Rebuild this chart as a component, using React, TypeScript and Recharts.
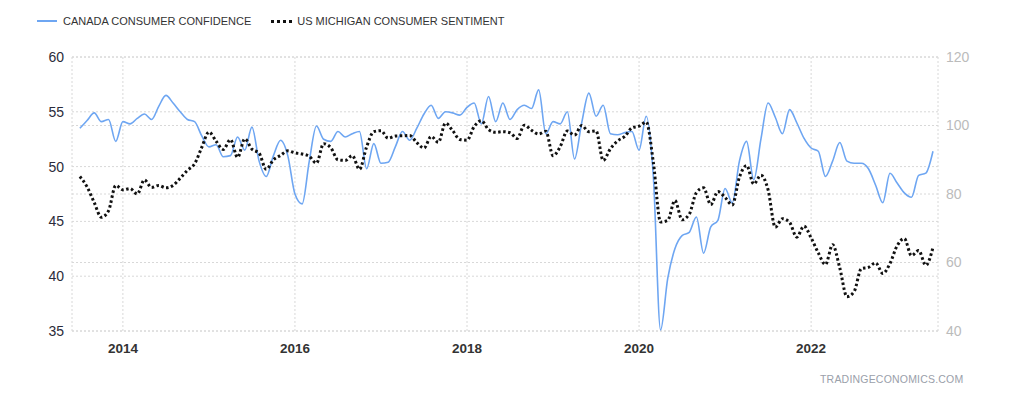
import { LineChart, Line, XAxis, YAxis, CartesianGrid } from 'recharts';

// monthly, Jul 2013 .. Jun 2023
const canada = [
  53.5, 54.2, 54.9, 54.1, 54.3, 52.3, 54.1, 53.9, 54.4, 54.8, 54.3, 55.5,
  56.5, 55.8, 55.0, 54.3, 54.1, 52.8, 51.8, 52.0, 50.9, 51.0, 52.7, 51.5,
  53.6, 50.5, 49.1, 51.0, 52.4, 51.0, 47.5, 46.6, 50.5, 53.7, 52.5, 52.3,
  53.2, 52.7, 53.0, 53.2, 49.8, 52.1, 50.3, 50.4, 51.8, 53.2, 52.4, 53.5,
  54.8, 55.6, 54.4, 55.0, 54.9, 54.7, 55.4, 55.8, 53.9, 56.4, 54.1, 55.8,
  54.3, 55.2, 55.6, 55.3, 57.0, 53.0, 54.1, 53.9, 55.0, 50.7, 54.0, 56.7,
  54.6, 55.6, 53.0, 52.9, 53.1, 53.2, 51.5, 54.6, 49.0, 35.1, 39.8, 42.5,
  43.7, 44.0, 45.4, 42.1, 44.5, 45.1, 48.0, 46.7, 50.5, 52.3, 48.8, 52.5,
  55.8, 54.5, 53.0, 55.2, 54.0, 52.6, 51.7, 51.4, 49.1, 50.5, 52.2, 50.5,
  50.3, 50.3, 49.8, 48.3, 46.7, 49.4, 48.5, 47.6, 47.2, 49.2, 49.4, 51.4,
];

const michigan = [
  85.1, 82.1, 77.5, 73.2, 75.1, 82.5, 81.2, 81.6, 80.0, 84.1, 81.9, 82.5,
  81.8, 82.5, 84.6, 86.9, 88.8, 93.6, 98.1, 95.4, 93.0, 95.9, 90.7, 96.1,
  93.1, 91.9, 87.2, 90.0, 91.3, 92.6, 92.0, 91.7, 91.0, 89.0, 94.7, 93.5,
  90.0, 89.8, 91.2, 87.2, 93.8, 98.2, 98.5, 96.3, 96.9, 97.0, 97.1, 95.0,
  93.4, 96.8, 95.1, 100.7, 98.5, 95.9, 95.7, 99.7, 101.4, 98.8, 98.0, 98.2,
  97.9, 96.2, 100.1, 98.6, 97.5, 98.3, 91.2, 93.8, 98.4, 97.2, 100.0, 98.2,
  98.4, 89.8, 93.2, 95.5, 96.8, 99.3, 99.8, 101.0, 89.1, 71.8, 72.3, 78.1,
  72.5, 74.1, 80.4, 81.8, 76.9, 80.7, 79.0, 76.8, 84.9, 88.3, 82.9, 85.5,
  81.2, 70.3, 72.8, 71.7, 67.4, 70.6, 67.2, 62.8, 59.4, 65.2, 58.4, 50.0,
  51.5, 58.2, 58.6, 59.9, 56.8, 59.7, 64.9, 67.0, 62.0, 63.5, 59.2, 64.4,
];

// January positions (month index from Jul 2013)
const yearTicks = [6, 30, 54, 78, 102];
const yearLabels = ['2014', '2016', '2018', '2020', '2022'];
const leftTicks = [35, 40, 45, 50, 55, 60];
const rightTicks = [40, 60, 80, 100, 120];

const data = canada.map((v, i) => ({ m: i, canada: v, us: michigan[i] }));

const font = 'Arial, "Liberation Sans", sans-serif';

export default function App() {
  return (
    <div style={{ position: 'absolute', left: 0, top: 0, width: 1024, height: 397, background: '#fff', fontFamily: font }}>
      <div style={{ position: 'absolute', top: 15, left: 37, display: 'flex', alignItems: 'center', fontSize: 11, color: '#333' }}>
        <span style={{ display: 'inline-block', width: 20, height: 2, background: '#6ea6f2', marginRight: 6 }} />
        <span>CANADA CONSUMER CONFIDENCE</span>
        <span style={{ display: 'inline-block', width: 21, borderTop: '3px dotted #111', marginLeft: 20, marginRight: 5 }} />
        <span>US MICHIGAN CONSUMER SENTIMENT</span>
      </div>
      <LineChart width={1024} height={397} data={data} margin={{ top: 57, right: 36, bottom: 36, left: 12 }}>
        <CartesianGrid yAxisId="left" stroke="#d8d8d8" strokeDasharray="2 2" ticks={leftTicks} />
        <CartesianGrid yAxisId="right" stroke="#d8d8d8" strokeDasharray="2 2" vertical={false} />
        <XAxis
          dataKey="m"
          type="number"
          domain={[-1.1, 119.7]}
          ticks={yearTicks}
          tickFormatter={(v) => yearLabels[yearTicks.indexOf(v)] ?? ''}
          axisLine={false}
          tickLine={false}
          height={30}
          tick={{ fill: '#333', fontSize: 13.5, fontWeight: 600 }}
          tickMargin={6}
        />
        <YAxis
          yAxisId="left"
          domain={[35, 60]}
          ticks={leftTicks}
          axisLine={false}
          tickLine={false}
          width={60}
          tick={{ fill: '#2b2b3a', fontSize: 14 }}
          tickMargin={2}
        />
        <YAxis
          yAxisId="right"
          orientation="right"
          domain={[40, 120]}
          ticks={rightTicks}
          axisLine={false}
          tickLine={false}
          width={50}
          tick={{ fill: '#bbbbbb', fontSize: 14 }}
          tickMargin={2}
        />
        <Line
          yAxisId="left"
          type="monotone"
          dataKey="canada"
          stroke="#6ea6f2"
          strokeWidth={1.6}
          dot={false}
          isAnimationActive={false}
        />
        <Line
          yAxisId="right"
          type="monotone"
          dataKey="us"
          stroke="#111"
          strokeWidth={3}
          strokeDasharray="2.5 2.5"
          dot={false}
          isAnimationActive={false}
        />
      </LineChart>
      <div style={{ position: 'absolute', top: 373, left: 820, fontSize: 10.5, color: '#9aa0aa', letterSpacing: 0.2 }}>
        TRADINGECONOMICS.COM
      </div>
    </div>
  );
}
